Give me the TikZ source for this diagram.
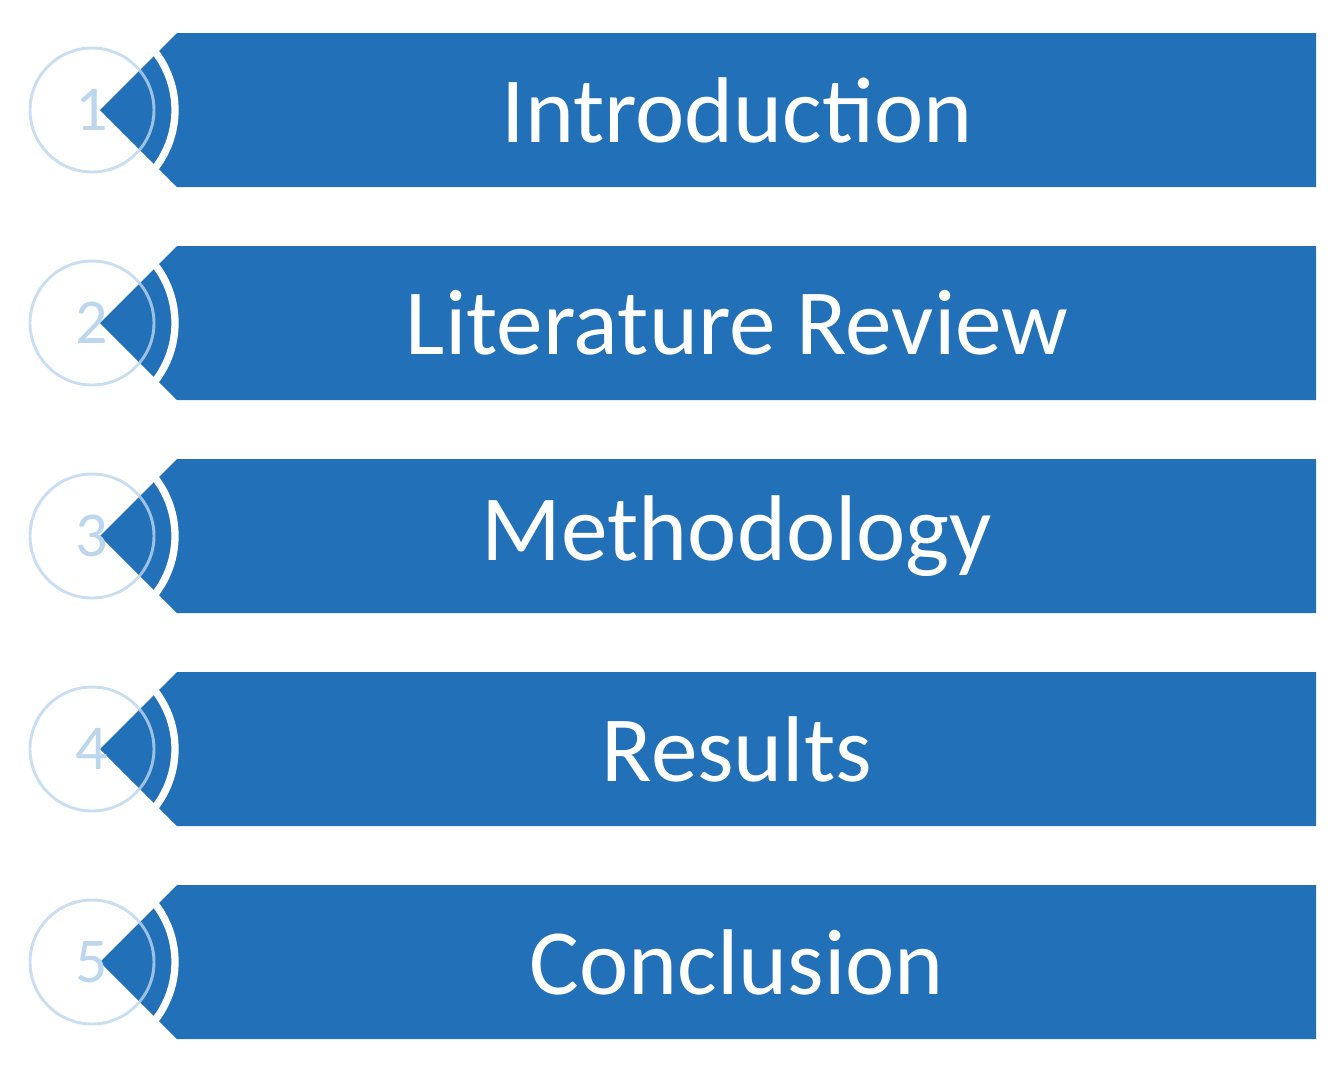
\documentclass[tikz,border=0pt]{standalone}
\usepackage{fontspec}
\setmainfont{Carlito}
\definecolor{bar}{HTML}{2170B8}
\definecolor{lite}{HTML}{BCD6EE}
\begin{document}
\begin{tikzpicture}[x=0.75pt,y=-0.75pt,
  lbl/.style={text=white,font=\fontsize{70}{80}\selectfont},
  num/.style={text=lite,font=\fontsize{48}{52}\selectfont}]
\useasboundingbox (0,0) rectangle (1341,1072);
\foreach \t [count=\i] in {Introduction,Literature Review,Methodology,Results,Conclusion}{
  \pgfmathsetmacro{\c}{110+213*(\i-1)}
  \fill[bar] (1316,\c-77) -- (177,\c-77) -- (100,\c) -- (177,\c+77) -- (1316,\c+77) -- cycle;
  \draw[white,line width=5.5pt] ([shift={(-38:95)}]80,\c) arc[start angle=-38,end angle=38,radius=95];
  \node[num] (n\i) at (92,\c) {\i};
  \draw[lite,opacity=0.8,line width=2.2pt] (92,\c) circle[radius=62];
  \node[lbl] (t\i) at (737,\c) {\t};
}
\end{tikzpicture}
\end{document}
